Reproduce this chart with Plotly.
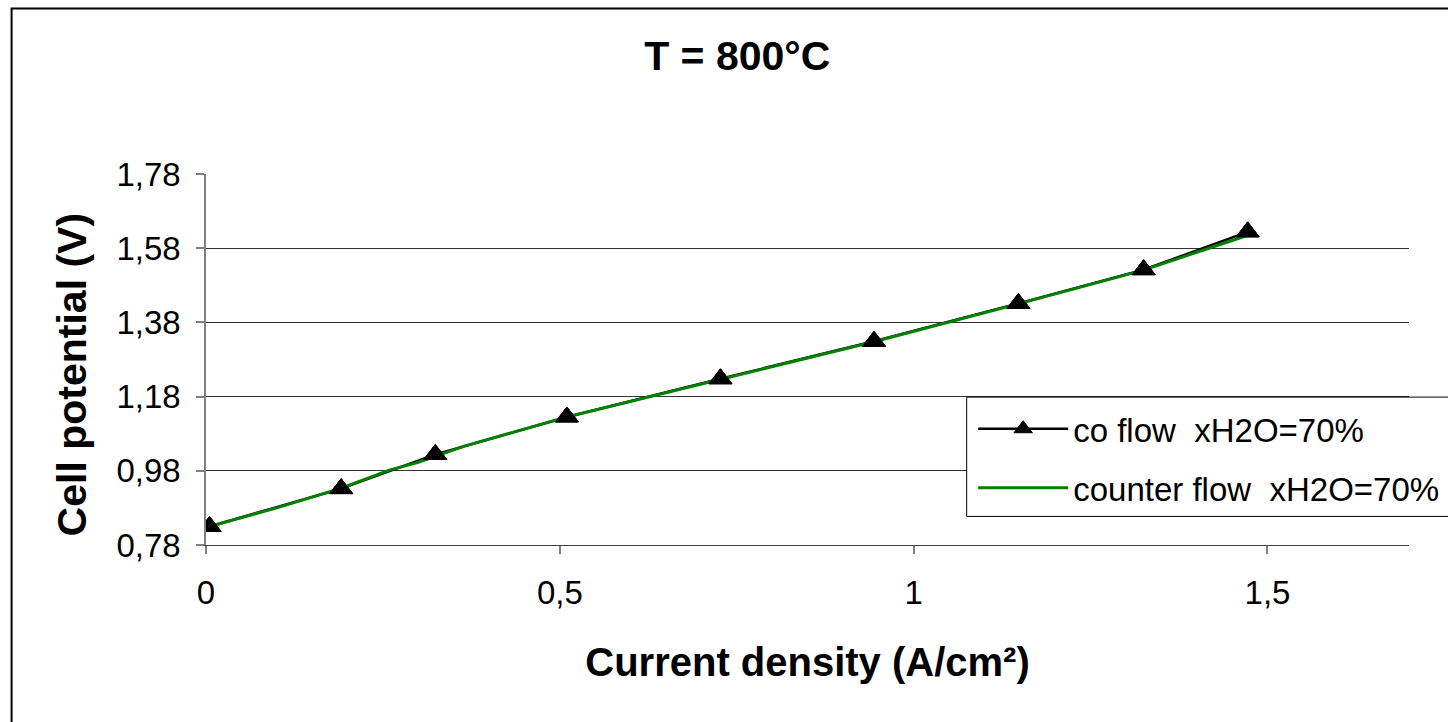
import plotly.graph_objects as go

# ---- data ----
co_x = [0.005, 0.191, 0.324, 0.510, 0.727, 0.944, 1.148, 1.325, 1.472]
co_y = [0.830, 0.932, 1.024, 1.125, 1.228, 1.329, 1.431, 1.522, 1.624]

counter_x = [0.005, 0.100, 0.191, 0.259, 0.300, 0.364, 0.510, 0.727, 0.944, 1.148, 1.325, 1.400, 1.482]
counter_y = [0.830, 0.880, 0.933, 0.982, 1.003, 1.046, 1.125, 1.227, 1.328, 1.430, 1.521, 1.569, 1.621]

x_tickvals = [0, 0.5, 1, 1.5]
x_ticktext = ["0", "0,5", "1", "1,5"]
y_tickvals = [0.78, 0.98, 1.18, 1.38, 1.58, 1.78]
y_ticktext = ["0,78", "0,98", "1,18", "1,38", "1,58", "1,78"]

co_name = "co flow  xH2O=70%"
counter_name = "counter flow  xH2O=70%"
title_text = "T = 800°C"
x_title = "Current density (A/cm²)"
y_title = "Cell potential (V)"

FONT = "Liberation Sans, Arial, sans-serif"

W, H = 1448, 722
L, R, T, B = 205.5, 39, 174, 176.7
pw = W - L - R
ph = H - T - B


def px2paper_x(px):
    return (px - L) / pw


def px2paper_y(py):
    return (H - B - py) / ph


marker_style = dict(symbol="triangle-up", size=20, color="black",
                    line=dict(color="black", width=1))

fig = go.Figure()

# co flow: line (+ marker for the legend symbol)
fig.add_trace(go.Scatter(
    x=co_x, y=co_y, name=co_name, mode="lines+markers",
    line=dict(color="black", width=2.5),
    marker=marker_style,
    legend="legend",
))
# counter flow: green line drawn over the black line
fig.add_trace(go.Scatter(
    x=counter_x, y=counter_y, name=counter_name, mode="lines",
    line=dict(color="#008000", width=3),
    legend="legend2",
))
# co flow markers on top of everything
fig.add_trace(go.Scatter(
    x=co_x, y=co_y, name=co_name, mode="markers", showlegend=False,
    marker=marker_style,
))

legend_common = dict(
    xanchor="left", yanchor="middle",
    bgcolor="rgba(0,0,0,0)", borderwidth=0,
    font=dict(family=FONT, size=33, color="black"),
    itemwidth=90, tracegroupgap=0,
)

fig.update_layout(
    width=W, height=H,
    margin=dict(l=L, r=R, t=T, b=B, autoexpand=False),
    paper_bgcolor="white", plot_bgcolor="white",
    font=dict(family=FONT, color="black"),
    title=dict(text="<b>" + title_text + "</b>", x=px2paper_x(737), xref="paper",
               xanchor="center", y=1 - 56 / H, yref="container", yanchor="middle",
               font=dict(family=FONT, size=41, color="black")),
    xaxis=dict(
        range=[0, 1.7], tickvals=x_tickvals, ticktext=x_ticktext,
        ticks="outside", ticklen=8, tickwidth=1.5, tickcolor="#808080",
        showline=True, linecolor="#404040", linewidth=1,
        showgrid=False, zeroline=False,
        tickfont=dict(family=FONT, size=33, color="black"),
        ticklabelstandoff=10,
        title=dict(text="<b>" + x_title + "</b>", standoff=38,
                   font=dict(family=FONT, size=40, color="black")),
    ),
    yaxis=dict(
        range=[0.78, 1.78], tickvals=y_tickvals, ticktext=y_ticktext,
        ticks="outside", ticklen=8, tickwidth=1.5, tickcolor="#808080",
        showline=True, linecolor="#808080", linewidth=1.5,
        showgrid=True, gridcolor="#333333", gridwidth=1,
        zeroline=False,
        tickfont=dict(family=FONT, size=33, color="black"),
        ticklabelstandoff=9,
    ),
    legend=dict(x=px2paper_x(973), y=px2paper_y(429), **legend_common),
    legend2=dict(x=px2paper_x(973), y=px2paper_y(488), **legend_common),
    annotations=[dict(
        text="<b>" + y_title + "</b>", textangle=-90,
        xref="paper", yref="paper", x=px2paper_x(71), y=px2paper_y(375),
        xanchor="center", yanchor="middle", showarrow=False,
        font=dict(family=FONT, size=41, color="black"),
    )],
    shapes=[
        # outer chart border (cut off at right and bottom like the reference)
        dict(type="rect", xref="paper", yref="paper",
             x0=px2paper_x(11), x1=px2paper_x(W + 20),
             y0=px2paper_y(H + 20), y1=px2paper_y(8.3),
             line=dict(color="black", width=2), layer="below"),
        # legend box
        dict(type="rect", xref="paper", yref="paper",
             x0=px2paper_x(966.5), x1=px2paper_x(W + 20),
             y0=px2paper_y(516.7), y1=px2paper_y(397.3),
             line=dict(color="black", width=1), fillcolor="white", layer="above"),
    ],
)

fig.write_html(
    "out.html",
    config={"displayModeBar": False},
    post_script="document.body.style.margin='0';document.body.style.overflow='hidden';",
)
